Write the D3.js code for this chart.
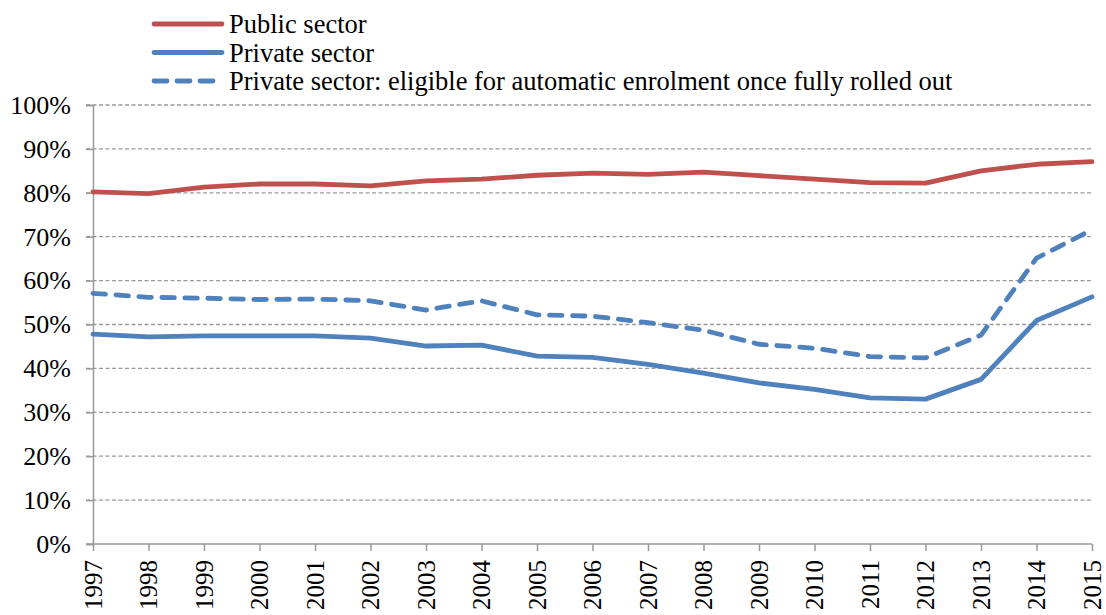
<!DOCTYPE html>
<html><head><meta charset="utf-8">
<script src="https://cdn.jsdelivr.net/npm/d3@7"></script>
<style>body{margin:0;background:#fff;} svg{display:block;} text{font-family:"Liberation Serif","Tinos","Times New Roman","Nimbus Roman","DejaVu Serif",serif;}</style>
</head><body>
<svg id="chart" width="1106" height="615"></svg>
<script>
const years = [1997,1998,1999,2000,2001,2002,2003,2004,2005,2006,2007,2008,2009,2010,2011,2012,2013,2014,2015];
const publicSector = [80.2,79.8,81.3,82.0,82.0,81.6,82.7,83.1,84.0,84.5,84.2,84.7,83.9,83.1,82.3,82.2,85.0,86.5,87.1];
const privateSector = [47.8,47.2,47.4,47.4,47.4,46.9,45.1,45.3,42.8,42.5,40.9,38.9,36.7,35.2,33.3,33.0,37.5,50.9,56.3];
const privateEligible = [57.1,56.2,56.0,55.7,55.8,55.4,53.3,55.4,52.2,51.9,50.4,48.7,45.5,44.6,42.7,42.4,47.6,65.1,71.6];
const yTicks = [0,10,20,30,40,50,60,70,80,90,100];
const seriesNames = ["Public sector","Private sector","Private sector: eligible for automatic enrolment once fully rolled out"];

const svg = d3.select("#chart");
const x = d3.scalePoint().domain(years).range([93,1092]);
const y = d3.scaleLinear().domain([0,100]).range([544,105]);

// gridlines
svg.append("g").selectAll("line").data(yTicks.filter(d=>d>0)).join("line")
  .attr("x1",86).attr("x2",1092).attr("y1",d=>y(d)).attr("y2",d=>y(d))
  .attr("stroke","#999").attr("stroke-width",1.3).attr("stroke-dasharray","4,2.5");

// y axis
const yAxis = svg.append("g").attr("transform","translate(93,0)")
  .call(d3.axisLeft(y).tickValues(yTicks).tickFormat(d=>d+"%").tickSize(7).tickPadding(15));
yAxis.attr("font-family",null);
yAxis.select(".domain").attr("stroke","#999").attr("stroke-width",1.5);
yAxis.selectAll(".tick line").attr("stroke","#999").attr("stroke-width",1.5);
yAxis.selectAll("text").attr("font-size",26).attr("fill","#000");

// x axis
const xAxis = svg.append("g").attr("transform","translate(0,544)")
  .call(d3.axisBottom(x).tickSize(7).tickSizeOuter(0));
xAxis.attr("font-family",null);
xAxis.select(".domain").attr("stroke","#999").attr("stroke-width",1.5).attr("d","M86,0H1092");
xAxis.selectAll(".tick line").attr("stroke","#999").attr("stroke-width",1.5);
xAxis.selectAll("text").attr("font-size",25).attr("fill","#000")
  .attr("transform","rotate(-90)").attr("text-anchor","end").attr("dy","0.33em").attr("x",-16).attr("y",0);

const line = d3.line().x((d,i)=>x(years[i])).y(d=>y(d));
const blue = "#4F81BD", red = "#C0504D";
svg.append("path").datum(privateEligible).attr("d",line).attr("fill","none").attr("stroke",blue)
  .attr("stroke-width",4.8).attr("stroke-dasharray","12.5,10.5").attr("stroke-linecap","round").attr("stroke-linejoin","round");
svg.append("path").datum(privateSector).attr("d",line).attr("fill","none").attr("stroke",blue)
  .attr("stroke-width",4.8).attr("stroke-linecap","round").attr("stroke-linejoin","round");
svg.append("path").datum(publicSector).attr("d",line).attr("fill","none").attr("stroke",red)
  .attr("stroke-width",4.8).attr("stroke-linecap","round").attr("stroke-linejoin","round");

// legend
const legend = [{c:red,dash:null},{c:blue,dash:null},{c:blue,dash:"13,10"}];
const lg = svg.append("g");
legend.forEach((l,i)=>{
  const yy = 24 + i*28.5;
  lg.append("line").attr("x1",154).attr("x2",222).attr("y1",yy).attr("y2",yy)
    .attr("stroke",l.c).attr("stroke-width",4.8).attr("stroke-linecap","round")
    .attr("stroke-dasharray",l.dash);
  lg.append("text").attr("x",229).attr("y",yy).attr("dy","0.35em").text(seriesNames[i])
    .attr("font-size",26.5).attr("fill","#000");
});
</script>
</body></html>
